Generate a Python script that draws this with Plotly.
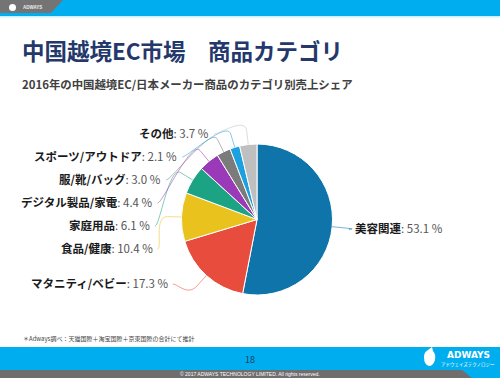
import math
import plotly.graph_objects as go

# ---------------- data ----------------
categories = ["美容関連", "マタニティ/ベビー", "食品/健康", "家庭用品",
              "デジタル製品/家電", "服/靴/バッグ", "スポーツ/アウトドア", "その他"]
shares = [53.1, 17.3, 10.4, 6.1, 4.4, 3.0, 2.1, 3.7]
slice_colors = ["#0e74a9", "#e74c3c", "#eac21d", "#1ba383",
                "#9a3ab8", "#7b7b7b", "#1ca0e0", "#bfbfbf"]

title_text = "中国越境EC市場　商品カテゴリ"
subtitle_text = "2016年の中国越境EC/日本メーカー商品のカテゴリ別売上シェア"
footnote_text = "＊Adways調べ：天猫国際＋淘宝国際＋京東国際の合計にて推計"
page_no = "18"
copyright_text = "© 2017 ADWAYS TECHNOLOGY LIMITED. All rights reserved."

# ---------------- layout constants ----------------
W, H = 500, 378
CX, CY, R = 257, 219.5, 75.5
LABEL_R = 101          # radius used for natural label heights
LABEL_RX = {True: 102, False: 93}   # horizontal label radius (left / right side)
YOFF = -7
BREAK = 14
GAP = 23
Y_MIN, Y_MAX = 134, 284
JP = "Noto Sans CJK JP"


def hex_rgba(h, a):
    h = h.lstrip("#")
    return "rgba(%d,%d,%d,%.2f)" % (int(h[0:2], 16), int(h[2:4], 16), int(h[4:6], 16), a)


fig = go.Figure()

# dummy trace to create pixel-space cartesian axes
fig.add_trace(go.Scatter(x=[0, W], y=[0, H], mode="markers",
                         marker=dict(opacity=0), hoverinfo="skip", showlegend=False))

fig.add_trace(go.Pie(
    labels=categories, values=shares, sort=False, direction="clockwise", rotation=0,
    marker=dict(colors=slice_colors, line=dict(color="white", width=1)),
    textinfo="none", hoverinfo="label+percent", showlegend=False,
    domain=dict(x=[(CX - R) / W, (CX + R) / W], y=[1 - (CY + R) / H, 1 - (CY - R) / H]),
))

# ---------------- label positions computed from the data ----------------
total = sum(shares)
cum = 0.0
info = []
for cat, v, col in zip(categories, shares, slice_colors):
    th = 2 * math.pi * (cum + v / 2) / total
    cum += v
    sx, sy = math.sin(th), -math.cos(th)
    info.append(dict(cat=cat, v=v, col=col, sx=sx, sy=sy,
                     left=sx < 0, ny=CY + LABEL_R * sy))

left = sorted([d for d in info if d["left"]], key=lambda d: d["ny"])
right = sorted([d for d in info if not d["left"]], key=lambda d: d["ny"])
for group in (left, right):
    ys = [min(max(d["ny"], Y_MIN), Y_MAX) for d in group]
    for i in range(1, len(ys)):
        ys[i] = max(ys[i], ys[i - 1] + GAP)
    for i in range(len(ys) - 2, -1, -1):
        ys[i] = min(ys[i], ys[i + 1] - GAP)
    for d, y in zip(group, ys):
        d["y"] = y

shapes = []
annotations = []
for d in info:
    ly = d["y"]
    rx = LABEL_RX[d["left"]]
    dy = ly + YOFF - CY
    dx = math.sqrt(max(rx ** 2 - dy ** 2, 0))
    sign = -1 if d["left"] else 1
    lx = CX + sign * dx
    tx, ty = CX + R * d["sx"], CY + R * d["sy"]
    bx, by = CX + (R + BREAK) * d["sx"], CY + (R + BREAK) * d["sy"]
    c1x = lx - sign * 5
    path = "M %.1f %.1f C %.1f %.1f, %.1f %.1f, %.1f %.1f L %.1f %.1f" % (
        lx, ly, c1x, ly, 2 * bx - tx, 2 * by - ty, bx, by, tx, ty)
    shapes.append(dict(type="path", path=path, xref="x", yref="y",
                       line=dict(color=hex_rgba(d["col"], 0.55), width=1), layer="above"))
    annotations.append(dict(
        x=lx + sign * 3, y=ly - 1.5, xref="x", yref="y",
        xanchor="right" if d["left"] else "left", yanchor="middle", showarrow=False,
        text="<b>%s</b><span style='color:#555555'>: %.1f %%</span>" % (d["cat"], d["v"]),
        font=dict(family=JP, size=11.5, color="#1a1a1a")))

# ---------------- slide decoration ----------------
CYAN = "#00aeef"
shapes += [
    dict(type="rect", x0=0, x1=W, y0=0, y1=16, fillcolor=CYAN, line=dict(width=0), layer="below"),
    dict(type="rect", x0=0, x1=W, y0=16, y1=17.5, fillcolor="#cdeefb", line=dict(width=0), layer="below"),
    dict(type="path", path="M 0 0 L 63 0 L 51 13 L 0 13 Z", fillcolor="#747474",
         line=dict(width=0), layer="below"),
    dict(type="circle", x0=9, x1=16, y0=4, y1=11, fillcolor="white", line=dict(width=0), layer="below"),
    dict(type="rect", x0=0, x1=W, y0=347, y1=378, fillcolor=CYAN, line=dict(width=0), layer="below"),
    dict(type="path", path="M 0 370 L 462 370 L 472 378 L 0 378 Z", fillcolor="#6e6e6e",
         line=dict(width=0), layer="below"),
    dict(type="path", path="M 424 357 Q 424 352 428 350 L 432 347 L 433 351 Q 436 354 435 360 Q 433 366 429 366 Q 424 365 424 357 Z",
         fillcolor="white", line=dict(width=0), layer="above"),
]

annotations += [
    dict(x=20, y=50, xref="x", yref="y", xanchor="left", yanchor="middle", showarrow=False,
         text="<b>%s</b>" % title_text, font=dict(family=JP, size=22.5, color="#24386b")),
    dict(x=20, y=84, xref="x", yref="y", xanchor="left", yanchor="middle", showarrow=False,
         text="<b>%s</b>" % subtitle_text, font=dict(family=JP, size=11.4, color="#404040")),
    dict(x=21, y=338, xref="x", yref="y", xanchor="left", yanchor="middle", showarrow=False,
         text=footnote_text, font=dict(family=JP, size=6, color="#444444")),
    dict(x=250, y=359, xref="x", yref="y", xanchor="center", yanchor="middle", showarrow=False,
         text=page_no, font=dict(family=JP, size=9, color="#1f3c63")),
    dict(x=250, y=374, xref="x", yref="y", xanchor="center", yanchor="middle", showarrow=False,
         text=copyright_text, font=dict(family="Liberation Sans", size=5, color="white")),
    dict(x=21, y=7, xref="x", yref="y", xanchor="left", yanchor="middle", showarrow=False,
         text="<b>ADWAYS</b>", font=dict(family="Liberation Sans", size=4.5, color="#eeeeee")),
    dict(x=468, y=355, xref="x", yref="y", xanchor="center", yanchor="middle", showarrow=False,
         text="<b>ADWAYS</b>", font=dict(family="DejaVu Sans", size=9, color="white")),
    dict(x=468, y=364.5, xref="x", yref="y", xanchor="center", yanchor="middle", showarrow=False,
         text="アドウェイズテクノロジー", font=dict(family=JP, size=4.5, color="white")),
]

fig.update_layout(
    width=W, height=H, margin=dict(l=0, r=0, t=0, b=0),
    paper_bgcolor="white", plot_bgcolor="white",
    xaxis=dict(range=[0, W], visible=False, fixedrange=True, domain=[0, 1]),
    yaxis=dict(range=[H, 0], visible=False, fixedrange=True, domain=[0, 1]),
    shapes=shapes, annotations=annotations, showlegend=False,
)

fig.write_html("out.html", config=dict(displayModeBar=False),
               post_script="document.body.style.margin='0px';document.body.style.overflow='hidden';")
